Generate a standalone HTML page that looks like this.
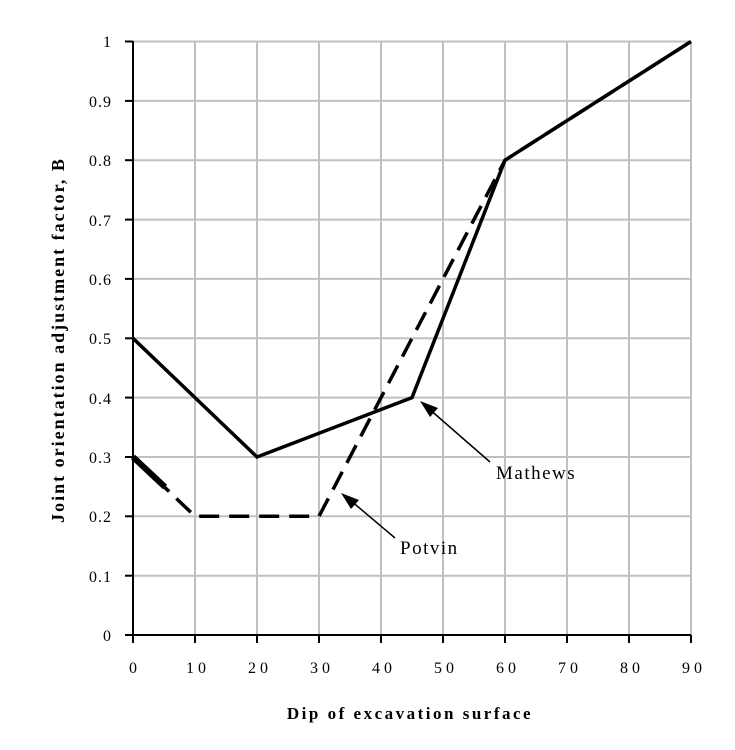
<!DOCTYPE html>
<html><head><style>body{margin:0;background:#fff}</style></head><body>
<svg width="735" height="745" xmlns="http://www.w3.org/2000/svg" font-family="Liberation Serif, serif">
<rect width="735" height="745" fill="#fff"/>
<g stroke="#c0c0c0" stroke-width="2">
<line x1="195" y1="41.5" x2="195" y2="635"/><line x1="257" y1="41.5" x2="257" y2="635"/>
<line x1="319" y1="41.5" x2="319" y2="635"/><line x1="381" y1="41.5" x2="381" y2="635"/>
<line x1="443" y1="41.5" x2="443" y2="635"/><line x1="505" y1="41.5" x2="505" y2="635"/>
<line x1="567" y1="41.5" x2="567" y2="635"/><line x1="629" y1="41.5" x2="629" y2="635"/>
<line x1="691" y1="41.5" x2="691" y2="635"/>
<line x1="133" y1="41.5" x2="691" y2="41.5"/><line x1="133" y1="100.9" x2="691" y2="100.9"/>
<line x1="133" y1="160.2" x2="691" y2="160.2"/><line x1="133" y1="219.6" x2="691" y2="219.6"/>
<line x1="133" y1="278.9" x2="691" y2="278.9"/><line x1="133" y1="338.3" x2="691" y2="338.3"/>
<line x1="133" y1="397.6" x2="691" y2="397.6"/><line x1="133" y1="457" x2="691" y2="457"/>
<line x1="133" y1="516.3" x2="691" y2="516.3"/><line x1="133" y1="575.7" x2="691" y2="575.7"/>
</g>
<g stroke="#000" stroke-width="2">
<line x1="133" y1="41" x2="133" y2="635"/><line x1="125" y1="635" x2="691" y2="635"/>
<line x1="125" y1="41.5" x2="133" y2="41.5"/><line x1="125" y1="100.9" x2="133" y2="100.9"/>
<line x1="125" y1="160.2" x2="133" y2="160.2"/><line x1="125" y1="219.6" x2="133" y2="219.6"/>
<line x1="125" y1="278.9" x2="133" y2="278.9"/><line x1="125" y1="338.3" x2="133" y2="338.3"/>
<line x1="125" y1="397.6" x2="133" y2="397.6"/><line x1="125" y1="457" x2="133" y2="457"/>
<line x1="125" y1="516.3" x2="133" y2="516.3"/><line x1="125" y1="575.7" x2="133" y2="575.7"/>
<line x1="133" y1="635" x2="133" y2="643"/><line x1="195" y1="635" x2="195" y2="643"/>
<line x1="257" y1="635" x2="257" y2="643"/><line x1="319" y1="635" x2="319" y2="643"/>
<line x1="381" y1="635" x2="381" y2="643"/><line x1="443" y1="635" x2="443" y2="643"/>
<line x1="505" y1="635" x2="505" y2="643"/><line x1="567" y1="635" x2="567" y2="643"/>
<line x1="629" y1="635" x2="629" y2="643"/><line x1="691" y1="635" x2="691" y2="643"/>
</g>
<g font-size="16" text-anchor="end" letter-spacing="1">
<text x="112" y="47">1</text><text x="112" y="107">0.9</text><text x="112" y="166">0.8</text>
<text x="112" y="226">0.7</text><text x="112" y="285">0.6</text><text x="112" y="344">0.5</text>
<text x="112" y="404">0.4</text><text x="112" y="463">0.3</text><text x="112" y="522">0.2</text>
<text x="112" y="582">0.1</text><text x="112" y="641">0</text>
</g>
<g font-size="16" text-anchor="middle" letter-spacing="4">
<text x="135" y="673">0</text><text x="198" y="673">10</text><text x="260" y="673">20</text>
<text x="322" y="673">30</text><text x="384" y="673">40</text><text x="446" y="673">50</text>
<text x="508" y="673">60</text><text x="570" y="673">70</text><text x="632" y="673">80</text>
<text x="694" y="673">90</text>
</g>
<text x="410" y="719" font-size="17" font-weight="bold" text-anchor="middle" letter-spacing="2.5">Dip of excavation surface</text>
<text transform="translate(64,340) rotate(-90)" font-size="18" font-weight="bold" text-anchor="middle" letter-spacing="2">Joint orientation adjustment factor, B</text>
<polyline points="133,338.3 257,457 412,397.6 505,160.2 691,41.5" fill="none" stroke="#000" stroke-width="3.5"/>
<polyline points="133,457 195,516.3 319,516.3 505,160.2 691,41.5" fill="none" stroke="#000" stroke-width="3.5" stroke-dasharray="20,10"/>
<line x1="133" y1="457" x2="165" y2="487" stroke="#000" stroke-width="6"/>
<line x1="490" y1="462" x2="428" y2="408" stroke="#000" stroke-width="1.5"/>
<polygon points="420,401 438,408 430,417" fill="#000"/>
<line x1="395" y1="538" x2="350" y2="500" stroke="#000" stroke-width="1.5"/>
<polygon points="341,493 359,500 351,509" fill="#000"/>
<text x="496" y="479" font-size="19" letter-spacing="1.5">Mathews</text>
<text x="400" y="554" font-size="19" letter-spacing="1.5">Potvin</text>
</svg>
</body></html>
